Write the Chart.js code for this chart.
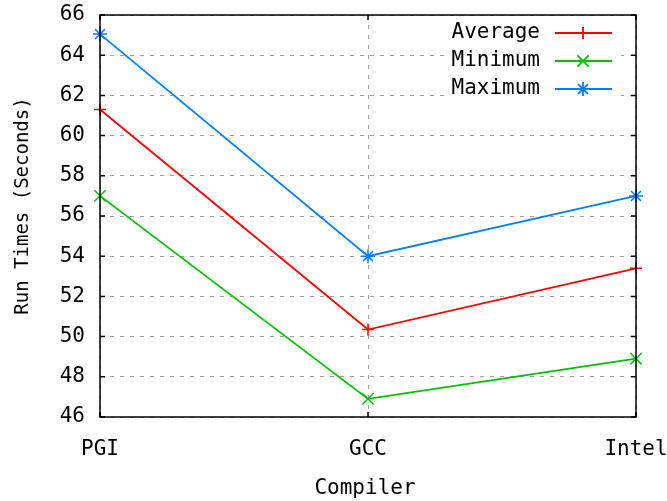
<!DOCTYPE html>
<html>
<head>
<meta charset="utf-8">
<script src="https://cdn.jsdelivr.net/npm/chart.js@4.4.0/dist/chart.umd.min.js"></script>
<style>
  html, body { margin: 0; padding: 0; background: #fff; }
</style>
</head>
<body>
<canvas id="runTimes" width="667" height="501"></canvas>
<script>
// Run times per compiler
const compilers = ['PGI', 'GCC', 'Intel'];
const averageTimes = [61.3, 50.35, 53.4];
const minimumTimes = [57.0, 46.9, 48.9];
const maximumTimes = [65.05, 54.0, 57.0];
const yTicks = [46, 48, 50, 52, 54, 56, 58, 60, 62, 64, 66];

const MONO = "'DejaVu Sans Mono', 'Liberation Mono', monospace";
Chart.defaults.font.family = MONO;
Chart.defaults.font.size = 21;
Chart.defaults.color = '#000';

const series = [
  { label: 'Average', data: averageTimes, color: '#ff0000', style: 'cross', radius: 6 },
  { label: 'Minimum', data: minimumTimes, color: '#00c000', style: 'crossRot', radius: 8 },
  { label: 'Maximum', data: maximumTimes, color: '#0080ff', style: 'star', radius: 7 },
];

// frame, inward ticks, key and axis titles in gnuplot style
const gnuplotFrame = {
  id: 'gnuplotFrame',
  afterDatasetsDraw(chart) {
    const { ctx, chartArea: a, scales: { x, y } } = chart;
    ctx.save();

    // blank area behind the key
    ctx.fillStyle = '#fff';
    ctx.fillRect(448, 20, 173, 82);

    ctx.strokeStyle = '#000';
    ctx.lineWidth = 1.5;
    ctx.strokeRect(a.left, a.top, a.right - a.left, a.bottom - a.top);

    ctx.beginPath();
    y.ticks.forEach((t, i) => {
      const py = y.getPixelForTick(i);
      ctx.moveTo(a.left, py); ctx.lineTo(a.left + 5, py);
      ctx.moveTo(a.right, py); ctx.lineTo(a.right - 5, py);
    });
    x.ticks.forEach((t, i) => {
      const px = x.getPixelForTick(i);
      ctx.moveTo(px, a.bottom); ctx.lineTo(px, a.bottom - 5);
      ctx.moveTo(px, a.top); ctx.lineTo(px, a.top + 5);
    });
    ctx.stroke();

    // key
    ctx.font = '21px ' + MONO;
    ctx.textAlign = 'right';
    ctx.textBaseline = 'middle';
    series.forEach((s, i) => {
      const ry = 33 + i * 28;
      ctx.fillStyle = '#000';
      ctx.fillText(s.label, 540, ry);
      ctx.strokeStyle = s.color;
      ctx.lineWidth = 1.8;
      ctx.beginPath();
      ctx.moveTo(555, ry); ctx.lineTo(612, ry);
      ctx.stroke();
      Chart.helpers.drawPoint(ctx, { pointStyle: s.style, radius: s.radius, borderWidth: 1.5 }, 583, ry);
    });

    // axis titles
    ctx.fillStyle = '#000';
    ctx.textAlign = 'center';
    ctx.fillText('Compiler', 365, 489);
    ctx.translate(23, 206);
    ctx.rotate(-Math.PI / 2);
    ctx.font = '19px ' + MONO;
    ctx.fillText('Run Times (Seconds)', 0, 0);

    ctx.restore();
  },
};

new Chart(document.getElementById('runTimes'), {
  type: 'line',
  data: {
    labels: compilers,
    datasets: series.map((s) => ({
      label: s.label,
      data: s.data,
      borderColor: s.color,
      backgroundColor: s.color,
      borderWidth: 1.8,
      pointStyle: s.style,
      pointRadius: s.radius,
      pointBorderWidth: 1.5,
      pointHoverRadius: s.radius,
      tension: 0,
      clip: false,
    })),
  },
  options: {
    responsive: false,
    animation: false,
    devicePixelRatio: 1,
    layout: { padding: { left: 0, top: 15, right: 31, bottom: 0 } },
    plugins: { legend: { display: false }, tooltip: { enabled: false } },
    scales: {
      x: {
        offset: false,
        grid: { color: '#a0a0a0', lineWidth: 1, drawTicks: false },
        border: { display: false, dash: [4, 6] },
        ticks: { padding: 20, maxRotation: 0, autoSkip: false },
        afterFit: (scale) => {
          scale.height = 84;
          scale.paddingLeft = 0;
          scale.paddingRight = 0;
        },
      },
      y: {
        min: 46,
        max: 66,
        grid: { color: '#a0a0a0', lineWidth: 1, drawTicks: false },
        border: { display: false, dash: [4, 6] },
        ticks: { padding: 15 },
        afterBuildTicks: (scale) => { scale.ticks = yTicks.map((v) => ({ value: v })); },
        afterFit: (scale) => {
          scale.width = 100;
          scale.paddingTop = 0;
          scale.paddingBottom = 0;
        },
      },
    },
  },
  plugins: [gnuplotFrame],
});
</script>
</body>
</html>
